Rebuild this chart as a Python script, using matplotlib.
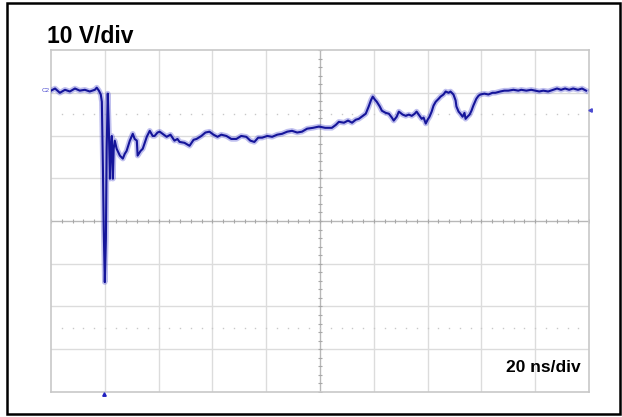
import numpy as np
import matplotlib
matplotlib.use("Agg")
import matplotlib.pyplot as plt
from matplotlib.patches import Rectangle

plt.rcParams['font.family'] = ['Liberation Sans', 'DejaVu Sans']

# time in ns (20 ns/div, 10 div), voltage in V (10 V/div, 8 div)
t_ns = [0.0, 1.5, 3.3, 5.2, 7.0, 8.9, 10.7, 12.6, 14.4, 16.3, 17.0, 17.8, 18.5, 18.9,
        19.3, 19.6, 20.0, 20.4, 20.7, 21.1, 21.5, 21.9, 22.2, 22.6, 23.0, 23.3, 23.7,
        24.4, 25.6, 26.7, 27.4, 28.1, 29.3, 30.4, 31.1, 31.9, 32.2, 33.3, 34.1, 35.6,
        36.7, 37.8, 38.5, 39.6, 40.4, 41.9, 43.0, 44.4, 45.9, 47.0, 47.8, 49.6, 51.5,
        53.0, 54.1, 55.9, 57.4, 58.9, 60.4, 61.9, 63.3, 65.2, 67.0, 68.9, 70.7, 72.6,
        74.1, 75.6, 77.0, 78.5, 80.4, 82.2, 84.1, 85.9, 87.8, 89.6, 91.5, 93.3, 95.2,
        97.4, 99.6, 101.9, 104.4, 105.9, 107.0, 108.9, 110.4, 111.9, 113.3, 114.4,
        115.9, 117.0, 118.1, 118.9, 119.6, 120.4, 121.1, 122.2, 123.0, 124.4, 125.6,
        126.7, 127.4, 128.5, 129.3, 130.7, 131.9, 133.0, 134.1, 135.2, 135.9, 137.0,
        137.8, 138.5, 139.3, 140.0, 140.7, 141.5, 142.2, 143.0, 144.1, 144.8, 145.9,
        146.7, 147.8, 148.5, 149.6, 150.4, 150.7, 151.5, 152.2, 153.0, 153.7, 154.1,
        154.8, 155.6, 156.3, 157.0, 158.1, 158.9, 159.6, 161.1, 162.6, 164.1, 165.2,
        167.0, 168.5, 170.0, 171.9, 173.7, 174.8, 176.7, 178.5, 180.0, 181.5, 183.0,
        184.8, 186.7, 188.1, 189.6, 191.1, 192.6, 194.1, 195.9, 197.4, 198.9]
v_volts = [30.5, 31.0, 30.0, 30.7, 30.3, 31.0, 30.5, 30.7, 30.3, 30.7, 31.2, 30.5, 29.6, 27.9,
           12.2, -1.9, -14.3, -4.2, 16.9, 29.8, 21.6, 9.9, 16.9, 19.9, 9.9, 16.9, 18.8,
           16.9, 15.3, 14.6, 15.7, 16.4, 18.8, 20.4, 19.2, 18.8, 15.3, 16.4, 16.9, 19.7,
           21.1, 19.9, 19.9, 20.7, 20.9, 20.2, 19.7, 20.2, 18.8, 19.2, 18.5, 18.3, 17.6,
           19.0, 19.2, 19.9, 20.7, 20.9, 20.2, 19.7, 20.2, 19.9, 19.2, 19.2, 19.9, 19.7,
           18.8, 18.5, 19.5, 19.5, 19.9, 19.7, 20.2, 20.4, 20.9, 21.1, 20.7, 20.9, 21.6,
           21.8, 22.1, 21.8, 21.8, 22.5, 23.2, 23.0, 23.5, 23.0, 23.7, 23.9,
           24.6, 25.1, 26.8, 28.2, 29.1, 28.4, 27.9, 26.8, 25.8, 25.3, 25.1,
           24.2, 23.5, 24.4, 25.6, 24.9, 24.6, 24.9, 24.6, 25.1, 25.6, 24.6,
           23.9, 24.2, 22.8, 23.7, 24.4, 25.6, 27.0, 27.9, 28.6, 29.1, 29.6,
           30.3, 30.0, 30.3, 29.6, 28.2, 26.8, 25.6, 25.1, 24.4, 25.3, 23.9,
           24.4, 24.9, 25.8, 27.0, 28.6, 29.3, 29.6, 29.8, 29.6, 30.0, 30.0,
           30.3, 30.5, 30.5, 30.7, 30.5, 30.7, 30.5, 30.7, 30.5, 30.3, 30.5,
           30.3, 30.7, 31.0, 30.7, 31.0, 30.7, 31.0, 30.7, 31.0, 30.5]

trigger_time = 19.6
trigger_level = 26.0

fig = plt.figure(figsize=(6.22, 4.17), dpi=100)
fig.patches.append(Rectangle((0.012, 0.007), 0.984, 0.986, transform=fig.transFigure,
                             fill=False, edgecolor='black', linewidth=1.8))

ax = fig.add_axes([0.082, 0.060, 0.865, 0.820])
ax.set_xlim(0, 200)
ax.set_ylim(-40, 40)

grid_c = '#dcdcdc'
for x in np.arange(20, 200, 20):
    if x != 100:
        ax.axvline(x, color=grid_c, lw=1.0, zorder=1)
for y in np.arange(-30, 40, 10):
    if y != 0:
        ax.axhline(y, color=grid_c, lw=1.0, zorder=1)
ax.axvline(100, color='#b8b8b8', lw=1.0, zorder=1)
ax.axhline(0, color='#b8b8b8', lw=1.0, zorder=1)

# minor marks on the centre lines
ax.plot(np.arange(0, 201, 4), np.zeros(51), ls='none', marker='|', ms=3,
        mew=0.8, color='#a8a8a8', zorder=1)
ax.plot(np.full(41, 100), np.arange(-40, 41, 2), ls='none', marker='_', ms=3,
        mew=0.8, color='#a8a8a8', zorder=1)
# dotted reference lines
for y in (25, -25):
    ax.plot(np.arange(4, 200, 4), np.full(49, y), ls='none', marker='s', ms=1.0,
            color='#c8c8c8', mew=0, zorder=1)

for s in ax.spines.values():
    s.set_color('#c8c8c8')
    s.set_linewidth(1.2)
ax.set_xticks([])
ax.set_yticks([])

ax.plot(t_ns, v_volts, color='#4a4ad0', lw=4.0, alpha=0.35, zorder=3,
        solid_joinstyle='round')
ax.plot(t_ns, v_volts, color='#15159a', lw=1.5, zorder=4)

# channel / trigger markers
ax.text(-0.5, v_volts[0], 'C2', color='#4a4ad0', fontsize=4.5, ha='right',
        va='center', clip_on=False)
ax.plot([trigger_time], [-40.4], marker='^', ms=2.5, color='#2020c0',
        clip_on=False, zorder=5)
ax.plot([200.3], [trigger_level], marker='<', ms=2.5, color='#4a4ad0',
        clip_on=False, zorder=5)

fig.text(0.075, 0.897, '10 V/div', fontsize=16.5, fontweight='bold', ha='left',
         va='baseline')
ax.text(0.985, 0.058, '20 ns/div', transform=ax.transAxes, fontsize=12.5,
        fontweight='bold', ha='right', va='baseline')

fig.savefig('out.png', dpi=100)
